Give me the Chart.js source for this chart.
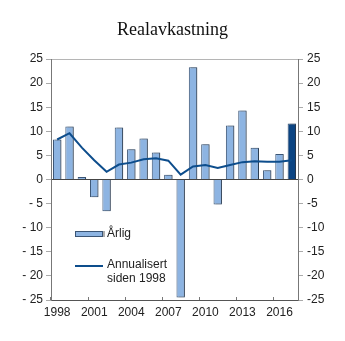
<!DOCTYPE html>
<html>
<head>
  <script src="https://cdn.jsdelivr.net/npm/chart.js"></script>
  <style>
    body { margin: 0; background: #fff; }
  </style>
</head>
<body>
  <canvas id="returnChart" width="345" height="341"></canvas>

  <script>

    const years = ['1998', '1999', '2000', '2001', '2002', '2003', '2004', '2005', '2006', '2007',
                   '2008', '2009', '2010', '2011', '2012', '2013', '2014', '2015', '2016', '2017'];

    // yearly real return, percent
    const annual = [8.3, 11.0, 0.5, -3.7, -6.6, 10.8, 6.3, 8.5, 5.6, 1.0,
                    -24.5, 23.3, 7.3, -5.2, 11.2, 14.3, 6.6, 1.9, 5.3, 11.6];

    // annualised real return since 1998, percent
    const sinceStart = [8.3, 9.6, 6.6, 4.0, 1.6, 3.1, 3.5, 4.2, 4.4, 3.9,
                        1.0, 2.7, 3.0, 2.4, 3.0, 3.6, 3.8, 3.7, 3.7, 4.0];

    const seriesNames = ['Årlig', ['Annualisert', 'siden 1998']];

    const lightBlue = '#8db4e2';
    const darkBlue = '#0b4482';
    const lineBlue = '#0d4d8c';
    const barEdge = '#3a5474';

    Chart.defaults.font.family = '"Liberation Sans", Arial, sans-serif';
    Chart.defaults.font.size = 12;
    Chart.defaults.color = '#222';

    // grey drop shadow to the right of the bars
    const barShadow = {
      id: 'barShadow',
      beforeDatasetDraw(chart, args) {
        if (args.index !== 0) return;
        const c = chart.ctx;
        c.save();
        c.shadowColor = 'rgba(0,0,0,0.32)';
        c.shadowOffsetX = 2;
        c.shadowOffsetY = 0;
        c.shadowBlur = 0;
      },
      afterDatasetDraw(chart, args) {
        if (args.index === 0) chart.ctx.restore();
      }
    };

    // legend sits inside the plot, lower left
    const innerLegend = {
      id: 'innerLegend',
      afterDatasetsDraw(chart) {
        const c = chart.ctx;
        const area = chart.chartArea;
        const x = area.left + 24;
        c.save();
        c.font = '12px "Liberation Sans", Arial, sans-serif';
        c.fillStyle = '#222';
        c.textBaseline = 'middle';
        c.textAlign = 'left';

        // bar entry
        let y = area.top + 175;
        c.save();
        c.shadowColor = 'rgba(0,0,0,0.32)';
        c.shadowOffsetX = 2;
        c.fillStyle = barEdge;
        c.fillRect(x, y - 3, 28, 6);
        c.restore();
        c.fillStyle = lightBlue;
        c.fillRect(x + 1, y - 2, 26, 4);
        c.fillStyle = '#222';
        c.fillText(seriesNames[0], x + 32, y);

        // line entry
        y = area.top + 207;
        c.strokeStyle = lineBlue;
        c.lineWidth = 2;
        c.beginPath();
        c.moveTo(x, y);
        c.lineTo(x + 28, y);
        c.stroke();
        seriesNames[1].forEach((t, i) => c.fillText(t, x + 32, y - 1 + i * 14));
        c.restore();
      }
    };

    const ctx = document.getElementById('returnChart').getContext('2d');
    const returnChart = new Chart(ctx, {
      type: 'bar',
      data: {
        labels: years,
        datasets: [
          {
            label: 'Årlig',
            data: annual,
            backgroundColor: c => c.dataIndex === years.length - 1 ? darkBlue : lightBlue,
            borderColor: barEdge,
            borderWidth: 1,
            categoryPercentage: 1,
            barPercentage: 0.68,
            order: 2,
          },
          {
            type: 'line',
            label: 'Annualisert siden 1998',
            data: sinceStart,
            borderColor: lineBlue,
            borderWidth: 2,
            pointRadius: 0,
            tension: 0,
            order: 1,
          },
        ],
      },
      options: {
        responsive: false,
        animation: false,
        devicePixelRatio: 1,
        layout: { padding: 0 },
        scales: {
          x: {
            border: { color: '#555' },
            grid: {
              drawOnChartArea: false,
              tickLength: -3,
              tickColor: c => c.index % 3 === 0 ? '#777' : 'rgba(0,0,0,0)',
            },
            ticks: {
              autoSkip: false,
              maxRotation: 0,
              padding: 8,
              callback: function (value, index) {
                return index % 3 === 0 ? years[index] : '';
              },
            },
            afterFit: s => { s.height = 41; },
          },
          y: {
            position: 'left',
            min: -25,
            max: 25,
            border: { color: '#777' },
            grid: {
              color: c => c.tick && c.tick.value === 0 ? '#444' : (c.tick && c.tick.value === 25 ? '#b5b5b5' : 'rgba(0,0,0,0)'),
              tickColor: '#aaa',
              tickLength: 5,
            },
            ticks: {
              stepSize: 5,
              padding: 3,
              callback: v => v < 0 ? '- ' + Math.abs(v) : String(v),
            },
            afterFit: s => { s.width = 51; },
          },
          y2: {
            position: 'right',
            min: -25,
            max: 25,
            border: { color: '#777' },
            grid: {
              drawOnChartArea: false,
              tickColor: '#aaa',
              tickLength: 5,
            },
            ticks: {
              stepSize: 5,
              padding: 4,
            },
            afterFit: s => { s.width = 47; },
          },
        },
        plugins: {
          legend: { display: false },
          tooltip: { enabled: false },
          title: {
            display: true,
            text: 'Realavkastning',
            color: '#111',
            font: {
              family: '"Liberation Serif", "Times New Roman", serif',
              size: 18,
              weight: 'normal',
            },
            padding: { top: 19, bottom: 18.4 },
          },
        },
      },
      plugins: [barShadow, innerLegend],
    });
  </script>
</body>
</html>
